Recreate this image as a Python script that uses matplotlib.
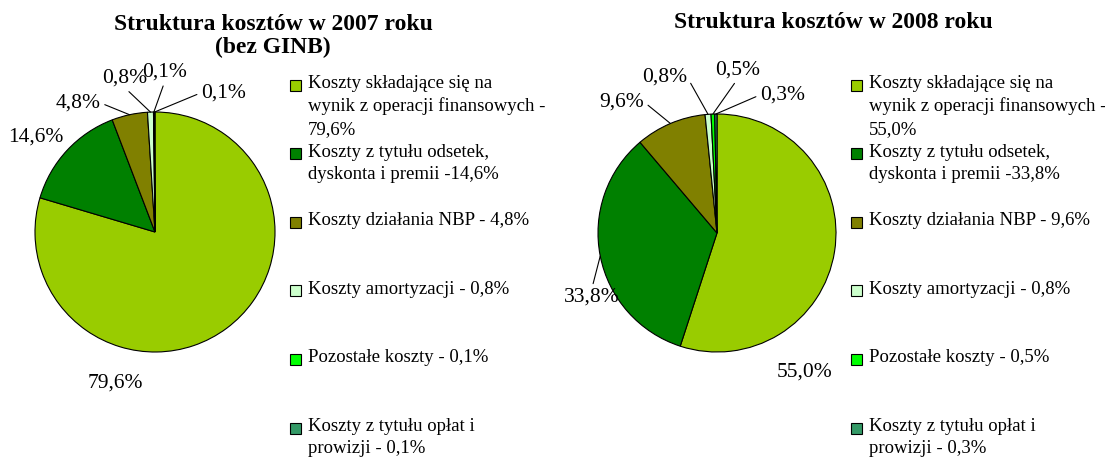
import matplotlib.pyplot as plt
import numpy as np
from matplotlib.patches import Rectangle

plt.rcParams["font.family"] = ["Liberation Serif", "DejaVu Serif"]

# ---- data ----
categories = [
    "Koszty składające się na\nwynik z operacji finansowych -",
    "Koszty z tytułu odsetek,\ndyskonta i premii -",
    "Koszty działania NBP - ",
    "Koszty amortyzacji - ",
    "Pozostałe koszty - ",
    "Koszty z tytułu opłat i\nprowizji - ",
]
values_2007 = [79.6, 14.6, 4.8, 0.8, 0.1, 0.1]
values_2008 = [55.0, 33.8, 9.6, 0.8, 0.5, 0.3]
titles = ["Struktura kosztów w 2007 roku\n(bez GINB)", "Struktura kosztów w 2008 roku"]
colors = ["#99CC00", "#008000", "#808000", "#CCFFCC", "#00FF00", "#339966"]

# label placement (data units of each pie, radius 1): text position, leader attach point on text (None = no line)
labels_layout_2007 = [
    ((-0.33, -1.26), None),
    ((-0.99, 0.79), None),
    ((-0.64, 1.075), (1.0, 0.5)),
    ((-0.25, 1.28), (0.5, 0.0)),
    ((0.08, 1.33), (0.5, 0.0)),
    ((0.57, 1.16), (0.0, 0.5)),
]
labels_layout_2008 = [
    ((0.74, -1.17), None),
    ((-1.05, -0.54), (0.5, 1.0)),
    ((-0.80, 1.10), (1.0, 0.5)),
    ((-0.44, 1.31), (1.0, 0.5)),
    ((0.17, 1.37), (0.5, 0.0)),
    ((0.55, 1.16), (0.0, 0.5)),
]

W, H = 1105, 459
fig = plt.figure(figsize=(W / 100, H / 100), dpi=100)


def fmt(v):
    return f"{v:.1f}".replace(".", ",") + "%"


def draw_pie(cx, cy, r, values, layout):
    ax = fig.add_axes([(cx - r) / W, (H - cy - r) / H, 2 * r / W, 2 * r / H])
    wedges, _ = ax.pie(values, colors=colors, startangle=90, counterclock=False,
                       wedgeprops=dict(edgecolor="black", linewidth=0.8))
    ax.set_xlim(-1, 1)
    ax.set_ylim(-1, 1)
    ax.set_aspect("equal")
    ax.axis("off")
    for w, v, (pos, rel) in zip(wedges, values, layout):
        mid = np.deg2rad((w.theta1 + w.theta2) / 2)
        edge = (np.cos(mid), np.sin(mid))
        if rel is not None:
            ax.annotate(fmt(v), xy=edge, xytext=pos, ha="center", va="center",
                        fontsize=15.5, annotation_clip=False,
                        arrowprops=dict(arrowstyle="-", lw=0.8, color="black",
                                        relpos=rel, shrinkA=1, shrinkB=0))
        else:
            ax.text(pos[0], pos[1], fmt(v), ha="center", va="center",
                    fontsize=15.5, clip_on=False)
    return ax


def draw_legend(x0, values):
    y0, step = 85, 68.6
    for i, (cat, v, c) in enumerate(zip(categories, values, colors)):
        y = y0 + i * step
        fig.add_artist(Rectangle(((x0) / W, (H - y - 5.5) / H), 11 / W, 11 / H,
                                 facecolor=c, edgecolor="black", linewidth=0.8,
                                 transform=fig.transFigure))
        label = cat + ("\n" if i == 0 else "") + fmt(v)
        fig.text((x0 + 18) / W, (H - y + 10) / H, label, ha="left", va="top",
                 fontsize=13.5, linespacing=1.4)


draw_pie(155, 232, 120, values_2007, labels_layout_2007)
draw_pie(717, 233, 119, values_2008, labels_layout_2008)
draw_legend(290, values_2007)
draw_legend(851, values_2008)

fig.text(273 / W, (H - 36) / H, titles[0], ha="center", va="center",
         fontsize=17, fontweight="bold", linespacing=1.15)
fig.text(833 / W, (H - 22) / H, titles[1], ha="center", va="center",
         fontsize=17, fontweight="bold")

fig.savefig("out.png", dpi=100)
